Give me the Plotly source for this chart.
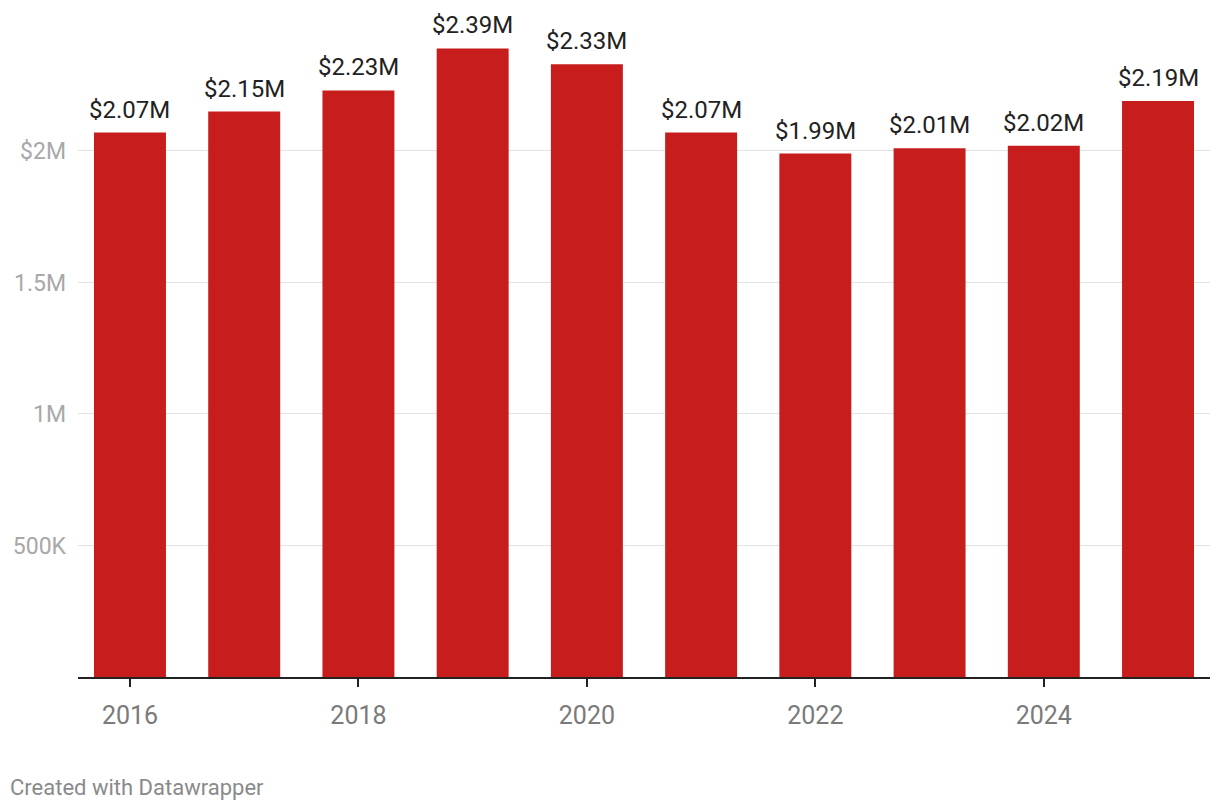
import plotly.graph_objects as go

years = [2016, 2017, 2018, 2019, 2020, 2021, 2022, 2023, 2024, 2025]
values = [2070000, 2150000, 2230000, 2390000, 2330000, 2070000, 1990000, 2010000, 2020000, 2190000]
labels = ["$2.07M", "$2.15M", "$2.23M", "$2.39M", "$2.33M", "$2.07M", "$1.99M", "$2.01M", "$2.02M", "$2.19M"]
y_tickvals = [500000, 1000000, 1500000, 2000000]
y_ticktext = ["500K", "1M", "1.5M", "$2M"]
x_tickvals = [2016, 2018, 2020, 2022, 2024]

FONT = "Roboto"

fig = go.Figure()
fig.add_trace(go.Bar(
    x=years, y=values, marker=dict(color="#c71e1d", line=dict(width=0)),
    width=0.63, hoverinfo="skip",
))

for x, y, t in zip(years, values, labels):
    fig.add_annotation(x=x, y=y, text=t, showarrow=False, yanchor="bottom",
                       yshift=7, font=dict(family=FONT, size=24, color="#222222"))

fig.add_annotation(xref="paper", yref="paper", x=0, y=0, xanchor="left", yanchor="middle",
                   xshift=-70, yshift=-110, text="Created with Datawrapper", showarrow=False,
                   font=dict(family=FONT, size=22, color="#8a8a8a"))

fig.update_layout(
    width=1212, height=802,
    margin=dict(l=70, r=10, t=12, b=133, autoexpand=False),
    plot_bgcolor="white", paper_bgcolor="white",
    showlegend=False,
    font=dict(family=FONT),
    xaxis=dict(
        range=[2015.545, 2025.455], tickvals=x_tickvals, ticktext=[str(v) for v in x_tickvals],
        showgrid=False, zeroline=False, showline=True, linecolor="#222222", linewidth=2,
        ticks="outside", ticklen=8, tickwidth=2, tickcolor="#222222", automargin=False,
        tickfont=dict(family=FONT, size=25, color="#7a7a7a"), ticklabelstandoff=7,
    ),
    yaxis=dict(
        range=[0, 2498000], tickvals=y_tickvals, ticktext=y_ticktext, automargin=False,
        showgrid=True, gridcolor="#e3e3e3", gridwidth=1, zeroline=False, showline=False,
        ticks="", tickfont=dict(family=FONT, size=23, color="#a8a8a8"), ticklabelstandoff=11,
    ),
)

fig.write_html("out.html")
